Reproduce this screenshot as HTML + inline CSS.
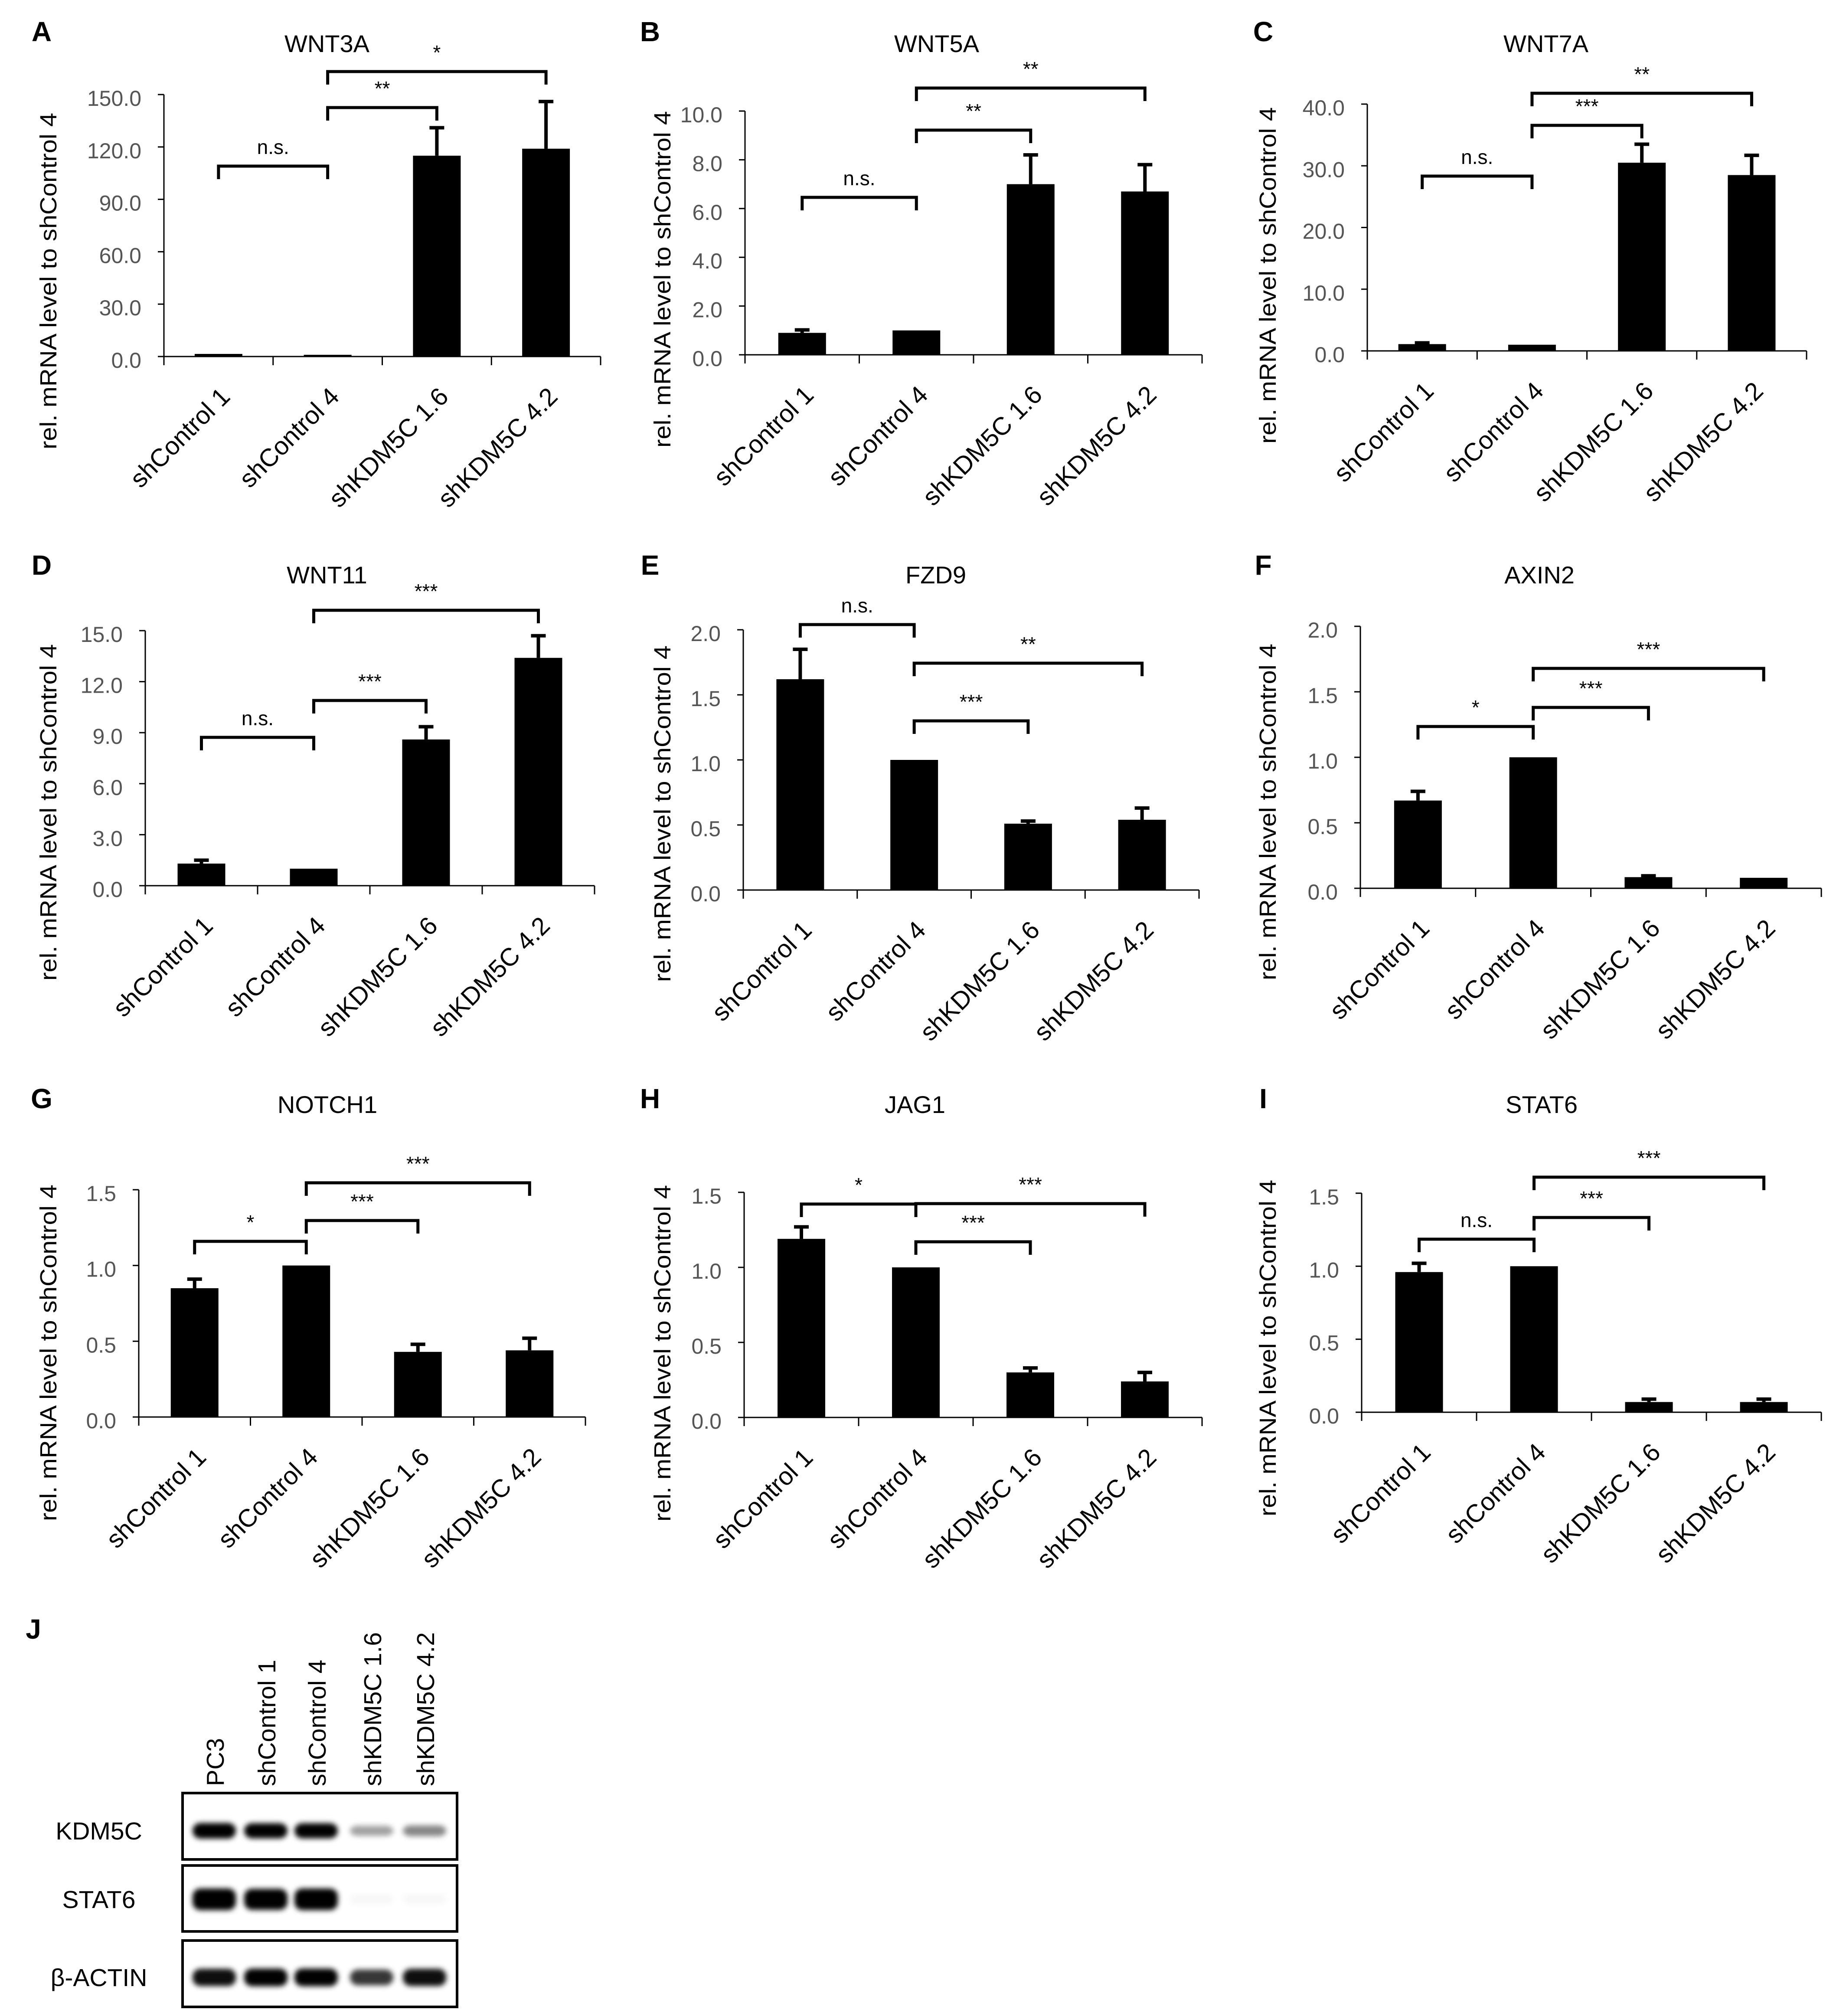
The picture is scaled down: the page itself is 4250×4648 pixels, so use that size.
<!DOCTYPE html>
<html><head><meta charset="utf-8"><style>
html,body{margin:0;padding:0;background:#fff;}
svg{display:block;}
text{font-family:"Liberation Sans",sans-serif;}
.tick{font-family:"Liberation Sans",sans-serif;fill:#555;font-size:50px;}
.sig{font-family:"Liberation Sans",sans-serif;font-size:46px;fill:#000;}
</style></head><body>
<svg id="fig" xmlns="http://www.w3.org/2000/svg" width="4250" height="4648" viewBox="0 0 4250 4648">
<rect width="4250" height="4648" fill="#fff"/>
<defs><filter id="blur" x="-20%" y="-50%" width="140%" height="200%"><feGaussianBlur stdDeviation="6"/></filter></defs>
</svg>
<script>
const categories = ["shControl 1","shControl 4","shKDM5C 1.6","shKDM5C 4.2"];
const titles = ["WNT3A","WNT5A","WNT7A","WNT11","FZD9","AXIN2","NOTCH1","JAG1","STAT6"];
const letters = ["A","B","C","D","E","F","G","H","I"];
const valuesA = [1.5,1.0,115,119];   const errorsA = [0,0,16,27];
const valuesB = [0.9,1.0,7.0,6.7];   const errorsB = [0.12,0,1.2,1.1];
const valuesC = [1.1,1.0,30.5,28.5]; const errorsC = [0.2,0,3.0,3.2];
const valuesD = [1.3,1.0,8.6,13.4];  const errorsD = [0.2,0,0.75,1.3];
const valuesE = [1.62,1.0,0.51,0.54];const errorsE = [0.23,0,0.02,0.09];
const valuesF = [0.67,1.0,0.085,0.08];const errorsF = [0.07,0,0.01,0];
const valuesG = [0.85,1.0,0.43,0.44];const errorsG = [0.06,0,0.05,0.08];
const valuesH = [1.19,1.0,0.30,0.24];const errorsH = [0.08,0,0.03,0.06];
const valuesI = [0.96,1.0,0.07,0.07];const errorsI = [0.06,0,0.02,0.02];
const ticksA = ["0.0","30.0","60.0","90.0","120.0","150.0"];
const ticksB = ["0.0","2.0","4.0","6.0","8.0","10.0"];
const ticksC = ["0.0","10.0","20.0","30.0","40.0"];
const ticksD = ["0.0","3.0","6.0","9.0","12.0","15.0"];
const ticksE = ["0.0","0.5","1.0","1.5","2.0"];
const ticksF = ["0.0","0.5","1.0","1.5","2.0"];
const ticksG = ["0.0","0.5","1.0","1.5"];
const ticksH = ["0.0","0.5","1.0","1.5"];
const ticksI = ["0.0","0.5","1.0","1.5"];
const sigA = [[0,1,"n.s."],[1,2,"**"],[1,3,"*"]];
const sigB = [[0,1,"n.s."],[1,2,"**"],[1,3,"**"]];
const sigC = [[0,1,"n.s."],[1,2,"***"],[1,3,"**"]];
const sigD = [[0,1,"n.s."],[1,2,"***"],[1,3,"***"]];
const sigE = [[0,1,"n.s."],[1,2,"***"],[1,3,"**"]];
const sigF = [[0,1,"*"],[1,2,"***"],[1,3,"***"]];
const sigG = [[0,1,"*"],[1,2,"***"],[1,3,"***"]];
const sigH = [[0,1,"*"],[1,2,"***"],[1,3,"***"]];
const sigI = [[0,1,"n.s."],[1,2,"***"],[1,3,"***"]];

const allValues=[valuesA,valuesB,valuesC,valuesD,valuesE,valuesF,valuesG,valuesH,valuesI];
const allErrors=[errorsA,errorsB,errorsC,errorsD,errorsE,errorsF,errorsG,errorsH,errorsI];
const allTicks=[ticksA,ticksB,ticksC,ticksD,ticksE,ticksF,ticksG,ticksH,ticksI];
const allSig=[sigA,sigB,sigC,sigD,sigE,sigF,sigG,sigH,sigI];
// layout (pixel geometry)
const layout=[
 {x0:378,x1:1385,yTop:218,y0:822,tx:110,lx:96,ly:73,ttx:754,ty:120,tyo:174,br:[383,248,165]},
 {x0:1718,x1:2772,yTop:256,y0:818,tx:1526,lx:1499,ly:73,ttx:2160,ty:120,tyo:174,br:[455,300,203]},
 {x0:3153,x1:4166,yTop:240,y0:809,tx:2922,lx:2913,ly:73,ttx:3565,ty:120,tyo:174,br:[406,289,215]},
 {x0:335,x1:1371,yTop:1454,y0:2042,tx:110,lx:96,ly:1303,ttx:754,ty:1345,tyo:169,br:[1700,1615,1407]},
 {x0:1714,x1:2765,yTop:1452,y0:2052,tx:1526,lx:1499,ly:1303,ttx:2158,ty:1345,tyo:176,br:[1440,1662,1529]},
 {x0:3137,x1:4200,yTop:1444,y0:2048,tx:2922,lx:2913,ly:1303,ttx:3550,ty:1345,tyo:176,br:[1675,1631,1541]},
 {x0:320,x1:1350,yTop:2743,y0:3267,tx:110,lx:96,ly:2533,ttx:755,ty:2566,tyo:148,br:[2862,2814,2727]},
 {x0:1716,x1:2772,yTop:2749,y0:3268,tx:1526,lx:1499,ly:2533,ttx:2110,ty:2566,tyo:148,br:[2776,2863,2775]},
 {x0:3140,x1:4200,yTop:2751,y0:3256,tx:2922,lx:2913,ly:2533,ttx:3555,ty:2566,tyo:148,br:[2857,2807,2714]}
];
const NS="http://www.w3.org/2000/svg";
const svg=document.getElementById('fig');
function mk(tag,attrs,parent,txt){const e=document.createElementNS(NS,tag);for(const k in attrs)e.setAttribute(k,attrs[k]);if(txt!==undefined)e.textContent=txt;(parent||svg).appendChild(e);return e;}

allValues.forEach((vals,p)=>{
  const L=layout[p], ticks=allTicks[p], errs=allErrors[p];
  const g=mk('g',{});
  
  
  const tmax=parseFloat(ticks[ticks.length-1]);
  const y=v=>L.y0-(v/tmax)*(L.y0-L.yTop);
  const bw=(L.x1-L.x0)/categories.length;
  const xc=i=>L.x0+(i+0.5)*bw;
  const lt=mk('text',{x:L.lx,y:L.ly,'font-size':64,'font-weight':'bold','text-anchor':'middle','dominant-baseline':'central'},g,letters[p]);
  
  
  const tt=mk('text',{x:L.ttx,y:L.ty,'font-size':56,'text-anchor':'middle'},g,titles[p]);
  
  
  const cy=L.y0-L.tyo;
  const yt=mk('text',{x:0,y:0,'font-size':54,'text-anchor':'middle',transform:`translate(${L.tx+20},${cy}) rotate(-90)`,textLength:776,lengthAdjust:'spacingAndGlyphs'},g,'rel. mRNA level to shControl 4');
  
  
  const ya=mk('line',{x1:L.x0,y1:L.yTop,x2:L.x0,y2:L.y0,stroke:'#000','stroke-width':3},g);
  
  
  ticks.forEach(t=>{
    const v=parseFloat(t);
    mk('line',{x1:L.x0-14,y1:y(v),x2:L.x0,y2:y(v),stroke:'#000','stroke-width':3},g);
    const tl=mk('text',{x:L.x0-52,y:y(v)+26,'text-anchor':'end',class:'tick'},g,t);
    
    
  });
  const xa=mk('line',{x1:L.x0,y1:L.y0,x2:L.x1,y2:L.y0,stroke:'#000','stroke-width':3},g);
  
  
  for(let i=0;i<=categories.length;i++){
    mk('line',{x1:L.x0+i*bw,y1:L.y0,x2:L.x0+i*bw,y2:L.y0+20,stroke:'#000','stroke-width':3},g);
  }
  vals.forEach((v,i)=>{
    const b=mk('rect',{x:xc(i)-55,y:y(v),width:110,height:Math.max(L.y0-y(v),3),fill:'#000'},g);
    
    
    if(errs[i]>0){
      const e=mk('path',{d:`M${xc(i)},${y(v)} V${y(v+errs[i])} M${xc(i)-17},${y(v+errs[i])} H${xc(i)+17}`,stroke:'#000','stroke-width':8,fill:'none'},g);
      
      
    }
    const cl=mk('text',{x:0,y:0,'font-size':58,'text-anchor':'end',transform:`translate(${xc(i)+30},${L.y0+96}) rotate(-45)`},g,categories[i]);
    
    
  });
  allSig[p].forEach((s,k)=>{
    const by=L.br[k], a=xc(s[0]), b=xc(s[1]);
    const br=mk('path',{d:`M${a},${by+30} V${by} H${b} V${by+30}`,stroke:'#000','stroke-width':7,fill:'none'},g);
    
    
    const sl=mk('text',{x:(a+b)/2,y:by-28,'text-anchor':'middle',class:'sig'},g,s[2]);
    
    
  });
});

// Panel J western blot
const lanes=["PC3","shControl 1","shControl 4","shKDM5C 1.6","shKDM5C 4.2"];
const proteins=["KDM5C","STAT6","β-ACTIN"];
const kdm5cIntensity=[1.0,0.95,0.95,0.35,0.45];
const stat6Intensity=[1.0,0.95,1.0,0.03,0.03];
const actinIntensity=[0.9,0.95,0.95,0.75,0.9];
const gJ=mk('g',{});


const jl=mk('text',{x:77,y:3778,'font-size':64,'font-weight':'bold','text-anchor':'middle'},gJ,'J');


const laneX=[494,613,729,857,979];
lanes.forEach((n,i)=>{
  const t=mk('text',{x:0,y:0,'font-size':57,transform:`translate(${laneX[i]+22},4118) rotate(-90)`},gJ,n);
  
  
});
const boxes=[[4134,4287,4221,36],[4301,4453,4379,50],[4474,4627,4559,42]];
const intens=[kdm5cIntensity,stat6Intensity,actinIntensity];
proteins.forEach((p,r)=>{
  const [t,b,cy,h]=boxes[r];
  const bx=mk('rect',{x:421,y:t,width:633,height:b-t,fill:'#fff',stroke:'#000','stroke-width':6},gJ);
  
  
  const lb=mk('text',{x:228,y:cy+20,'font-size':57,'text-anchor':'middle'},gJ,p);
  
  
  intens[r].forEach((v,i)=>{
    const hh=h*(0.45+0.55*v);
    const band=mk('rect',{x:laneX[i]-50,y:cy-hh/2,width:100,height:hh,rx:18,fill:'#000','fill-opacity':Math.min(1,v*1.05),filter:'url(#blur)'},gJ);
    
    
  });
});
</script>
</body></html>
